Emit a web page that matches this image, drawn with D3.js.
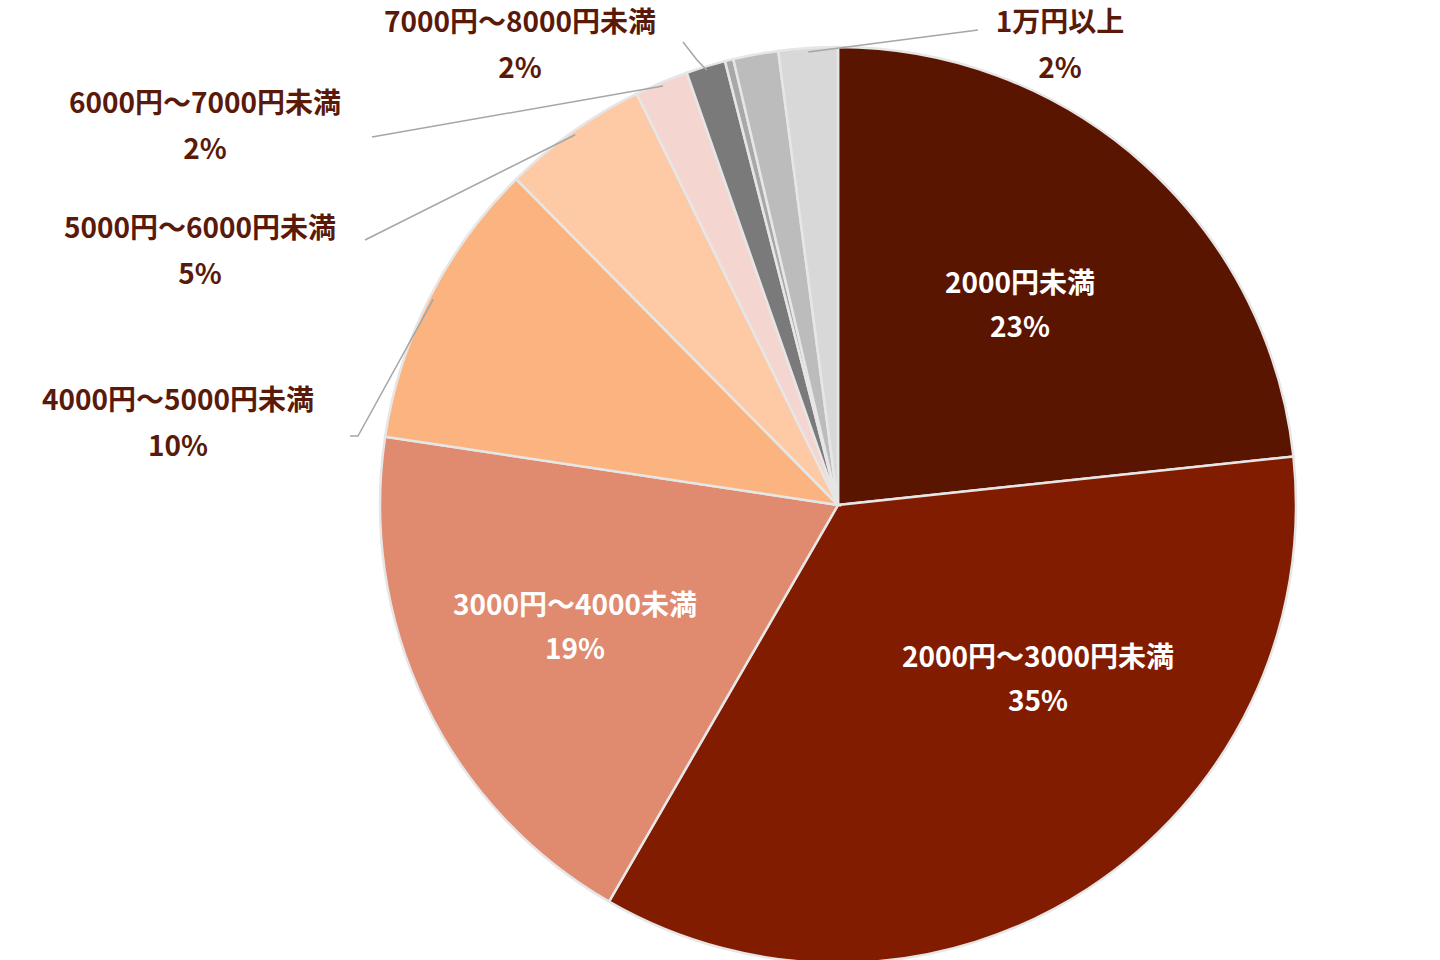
<!DOCTYPE html><html><head><meta charset="utf-8"><script src="https://cdn.jsdelivr.net/npm/d3@7"></script>
<style>body{margin:0;background:#fff}text{font-family:"Noto Sans CJK JP",sans-serif;font-weight:700}</style></head><body><svg width="1440" height="960"></svg><script>
const categories=["2000円未満","2000円～3000円未満","3000円～4000未満","4000円～5000円未満","5000円～6000円未満","6000円～7000円未満","7000円～8000円未満","8000円～9000円未満","9000円～1万円未満","1万円以上"];
const values=[23.5,35.3,19.2,10.3,5.2,1.9,1.4,0.3,1.6,2.1];
const pctLabels=["23%","35%","19%","10%","5%","2%","2%","","","2%"];
const colors=["#5a1500","#821c00","#e08a70","#fbb47f","#fdcaa5","#f5d5d0","#7a7a7a","#a8a8a8","#bcbcbc","#d8d8d8"];
const svg=d3.select("svg"),cx=838,cy=505,R=458;
const g=svg.append("g").attr("transform",`translate(${cx},${cy})`);
const pie=d3.pie().sort(null).value(d=>d)(values);
const arc=d3.arc().innerRadius(0).outerRadius(R);
g.selectAll("path").data(pie).join("path").attr("d",arc).attr("fill",(d,i)=>colors[i]).attr("stroke","#e6e6e6").attr("stroke-width",2.5);
// inside labels
const inside={0:[1020,283],1:[1038,657],2:[575,605]};
// outside labels: [labelX,labelY, lineStartX,lineStartY]
const outside={3:[178,400,350,436],4:[200,228,365,240],5:[205,103,372,137],6:[520,22,683,42],9:[1060,22,978,30]};
pie.forEach((d,i)=>{
 if(inside[i]){const [x,y]=inside[i];
  const t=svg.append("text").attr("fill","#fff").attr("font-size",28).attr("text-anchor","middle");
  t.append("tspan").attr("x",x).attr("y",y+10).text(categories[i]);
  t.append("tspan").attr("x",x).attr("y",y+54).text(pctLabels[i]);}
 if(outside[i]){const [x,y,lx,ly]=outside[i];
  const t=svg.append("text").attr("fill","#5a1a0a").attr("font-size",28).attr("text-anchor","middle");
  t.append("tspan").attr("x",x).attr("y",y+10).text(categories[i]);
  t.append("tspan").attr("x",x).attr("y",y+56).text(pctLabels[i]);
  const a=(d.startAngle+d.endAngle)/2;
  const ex=cx+Math.sin(a)*(R-4),ey=cy-Math.cos(a)*(R-4);
  let pts=[[lx,ly]];
  if(i===3)pts=[[lx,ly],[lx+8,ly]];
  if(i===6)pts=[[lx,ly],[lx+14,ly+18]];
  pts.push([ex,ey]);
  svg.append("path").attr("d",d3.line()(pts)).attr("fill","none").attr("stroke","#a6a6a6").attr("stroke-width",1.5);}
});
</script></body></html>
